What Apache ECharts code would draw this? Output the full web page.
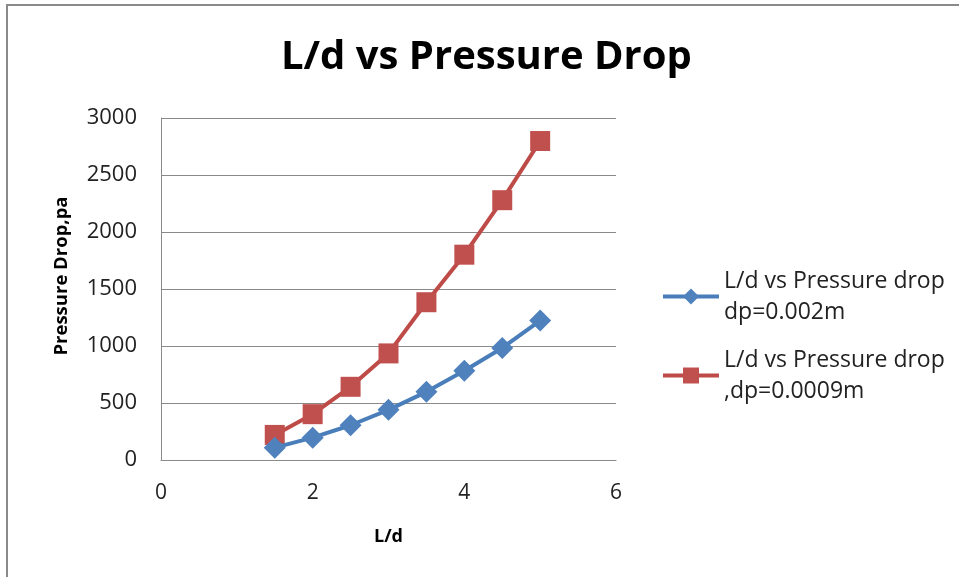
<!DOCTYPE html>
<html>
<head>
<meta charset="utf-8">
<script src="https://cdn.jsdelivr.net/npm/echarts@6/dist/echarts.min.js"></script>
<style>
  html, body { margin: 0; padding: 0; background: #fff; }
  #chart { width: 959px; height: 577px; }
</style>
</head>
<body>
<div id="chart"></div>
<script>
// L/d ratios tested
const ratioLd = [1.5, 2, 2.5, 3, 3.5, 4, 4.5, 5];
// Pressure drop (Pa) for particle diameter 0.002 m
const dropDp002 = [108, 196, 305, 440, 598, 783, 983, 1223];
// Pressure drop (Pa) for particle diameter 0.0009 m
const dropDp0009 = [220, 402, 642, 935, 1384, 1801, 2279, 2798];

const seriesNames = [
  'L/d vs Pressure drop\ndp=0.002m',
  'L/d vs Pressure drop\n,dp=0.0009m'
];

const FONT = 'Open Sans';
const chart = echarts.init(document.getElementById('chart'));

chart.setOption({
  animation: false,
  backgroundColor: '#ffffff',
  title: {
    text: 'L/d vs Pressure Drop',
    left: 281,
    top: 38,
    padding: 0,
    textStyle: { fontFamily: FONT, fontWeight: 'bold', fontSize: 40, color: '#000' }
  },
  graphic: [{
    type: 'rect',
    shape: { x: 7, y: 5, width: 1000, height: 620 },
    style: { fill: 'none', stroke: '#8a8a8a', lineWidth: 2 },
    silent: true
  }],
  legend: {
    orient: 'vertical',
    left: 661,
    top: 250,
    padding: 0,
    itemWidth: 56,
    itemHeight: 20,
    itemGap: -14,
    lineStyle: { width: 4 },
    textStyle: {
      fontFamily: FONT,
      fontSize: 23,
      lineHeight: 31,
      color: '#222',
      padding: [31, 0, 0, 0]
    },
    data: seriesNames
  },
  grid: { left: 161, right: 343, top: 118, bottom: 117 },
  xAxis: {
    type: 'value',
    min: 0, max: 6, interval: 2,
    name: 'L/d',
    nameLocation: 'middle',
    nameGap: 68,
    nameTextStyle: { fontFamily: FONT, fontWeight: 'bold', fontSize: 18, color: '#000' },
    axisLine: { lineStyle: { color: '#8a8a8a', width: 1 } },
    axisTick: { show: false },
    splitLine: { show: false },
    axisLabel: { fontFamily: FONT, fontSize: 21, color: '#222', margin: 23 }
  },
  yAxis: {
    type: 'value',
    min: 0, max: 3000, interval: 500,
    name: 'Pressure Drop,pa',
    nameLocation: 'middle',
    nameGap: 90,
    nameTextStyle: {
      fontFamily: FONT, fontWeight: 'bold', fontSize: 18.5, color: '#000',
      padding: [0, 0, 0, 26]
    },
    axisLine: { show: true, lineStyle: { color: '#8a8a8a', width: 1 } },
    axisTick: { show: false },
    splitLine: { lineStyle: { color: '#8a8a8a', width: 1 } },
    axisLabel: {
      fontFamily: FONT, fontSize: 22, color: '#222', margin: 24,
      formatter: v => String(v)
    }
  },
  series: [
    {
      name: seriesNames[0],
      type: 'line',
      data: ratioLd.map((x, i) => [x, dropDp002[i]]),
      symbol: 'diamond',
      symbolSize: 22,
      lineStyle: { color: '#4a7ebb', width: 4 },
      itemStyle: { color: '#4f81bd' },
      z: 3
    },
    {
      name: seriesNames[1],
      type: 'line',
      data: ratioLd.map((x, i) => [x, dropDp0009[i]]),
      symbol: 'rect',
      symbolSize: 20,
      lineStyle: { color: '#be4b48', width: 4 },
      itemStyle: { color: '#c0504d' },
      z: 2
    }
  ]
});
</script>
</body>
</html>
